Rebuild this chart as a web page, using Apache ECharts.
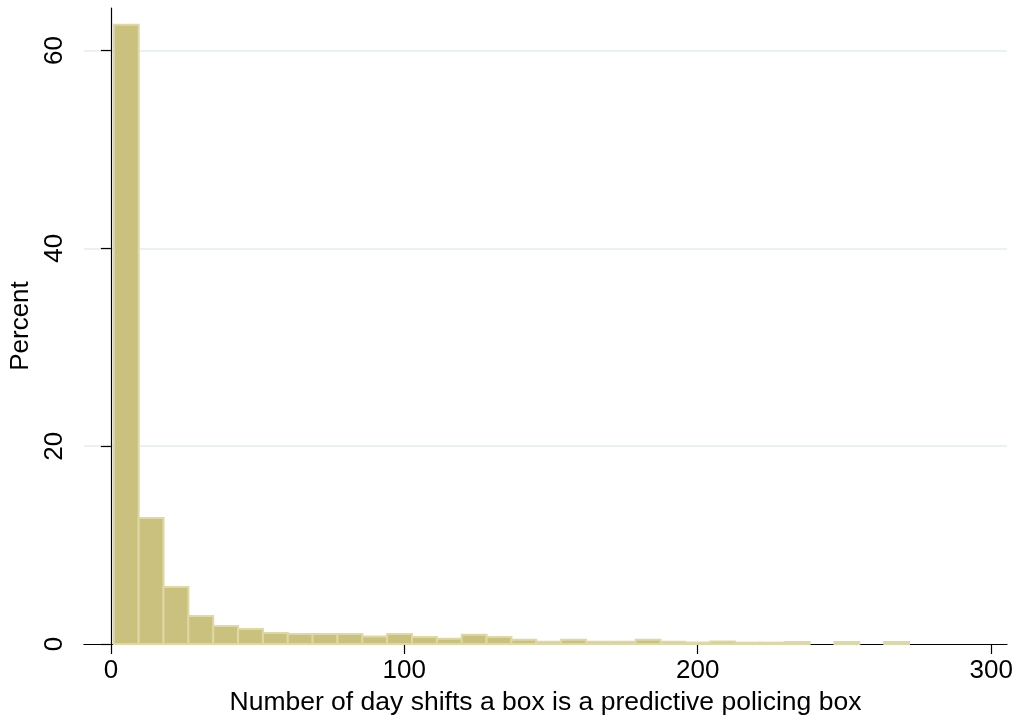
<!DOCTYPE html>
<html>
<head>
<meta charset="utf-8">
<script src="https://cdn.jsdelivr.net/npm/echarts@6/dist/echarts.min.js"></script>
<style>
html,body{margin:0;padding:0;background:#fff;}
#chart{width:1018px;height:722px;}
</style>
</head>
<body>
<div id="chart"></div>
<script>
// Histogram bins (Stata default): 32 bins from 1 to 272
const binStart = 1;
const binWidth = 8.46875;
const percents = [62.6, 12.74, 5.76, 2.83, 1.82, 1.52, 1.11, 1.01, 1.01, 1.01,
                  0.77, 1.01, 0.71, 0.54, 0.93, 0.71, 0.42, 0.22, 0.42, 0.22,
                  0.22, 0.42, 0.22, 0.15, 0.25, 0.14, 0.14, 0.2, 0, 0.2,
                  0, 0.2];
const xTicks = [0, 100, 200, 300];
const yTicks = [0, 20, 40, 60];
const xTitle = 'Number of day shifts a box is a predictive policing box';
const yTitle = 'Percent';

const histData = percents.map((p, i) => [binStart + i * binWidth, binStart + (i + 1) * binWidth, p]);

const chart = echarts.init(document.getElementById('chart'), null, {renderer: 'canvas'});
const font = 'Liberation Sans, Arial, Helvetica, sans-serif';
chart.setOption({
  animation: false,
  backgroundColor: '#ffffff',
  grid: {left: 83, right: 11, top: 8, bottom: 78, containLabel: false},
  xAxis: {
    type: 'value',
    min: -9.2,
    max: 305.4,
    name: xTitle,
    nameLocation: 'middle',
    nameGap: 43,
    nameTextStyle: {fontFamily: font, fontSize: 26.5, color: '#000'},
    axisLine: {show: true, onZero: false, lineStyle: {color: '#000', width: 1.2}},
    axisTick: {show: true, length: 10, customValues: xTicks, lineStyle: {color: '#000', width: 1.2}},
    axisLabel: {customValues: xTicks, margin: 14, fontFamily: font, fontSize: 26, color: '#000'},
    splitLine: {show: false}
  },
  yAxis: {
    type: 'value',
    min: 0,
    max: 64.3,
    interval: 20,
    name: yTitle,
    nameLocation: 'middle',
    nameRotate: 90,
    nameGap: 47,
    nameTextStyle: {fontFamily: font, fontSize: 26, color: '#000'},
    axisLine: {show: true, lineStyle: {color: '#000', width: 1.2}},
    axisTick: {show: true, length: 10, customValues: yTicks, lineStyle: {color: '#000', width: 1.2}},
    axisLabel: {customValues: yTicks, rotate: 90, margin: 16, fontFamily: font, fontSize: 26, color: '#000'},
    splitLine: {show: true, showMinLine: false, showMaxLine: true, lineStyle: {color: '#e9f1f2', width: 2}}
  },
  series: [{
    type: 'custom',
    data: histData,
    encode: {x: [0, 1], y: 2},
    renderItem: function (params, api) {
      const p0 = api.coord([api.value(0), api.value(2)]);
      const p1 = api.coord([api.value(1), 0]);
      if (api.value(2) <= 0) return null;
      return {
        type: 'rect',
        shape: {x: p0[0], y: p0[1], width: p1[0] - p0[0], height: p1[1] - p0[1]},
        style: {fill: '#c9c17d', stroke: '#ddd8a6', lineWidth: 2}
      };
    }
  }]
});
</script>
</body>
</html>
